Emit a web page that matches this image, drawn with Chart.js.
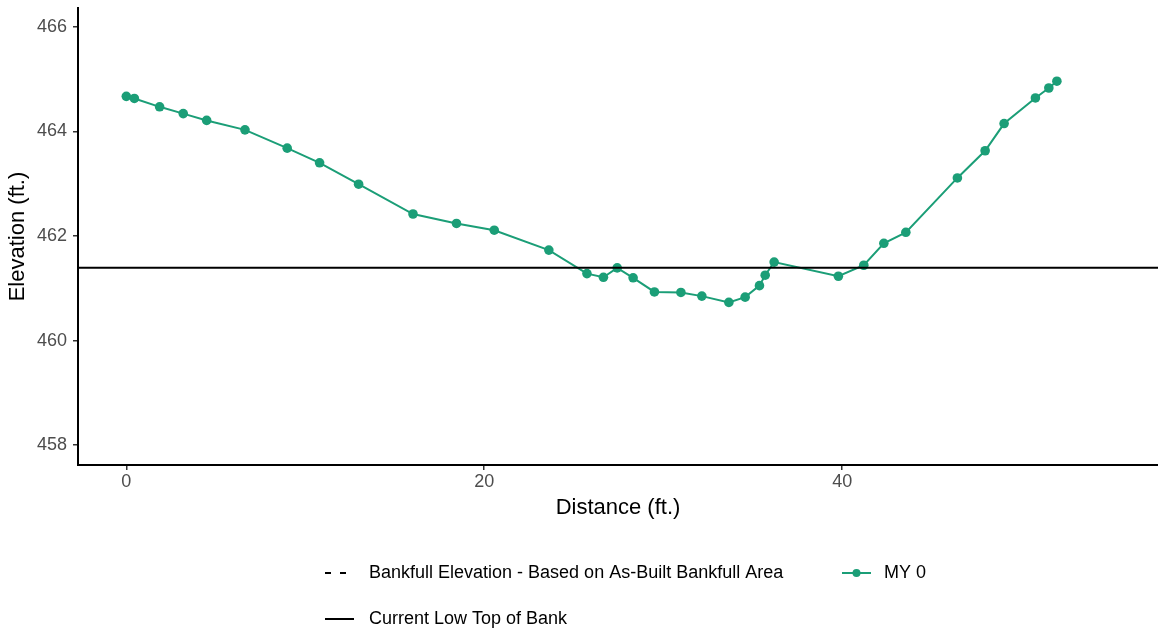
<!DOCTYPE html>
<html>
<head>
<meta charset="utf-8">
<script src="https://cdn.jsdelivr.net/npm/chart.js@4/dist/chart.umd.min.js"></script>
<style>
  html, body { margin: 0; padding: 0; background: #fff; }
  #wrap { width: 1158px; height: 633px; }
</style>
</head>
<body>
<div id="wrap"><canvas id="xsChart"></canvas></div>
<script>
// cross-section survey, MY 0
const distance = [0, 0.45, 1.86, 3.18, 4.49, 6.63, 8.99, 10.8, 12.98, 16.02, 18.45, 20.56, 23.61,
  25.74, 26.66, 27.43, 28.32, 29.51, 30.99, 32.16, 33.67, 34.58, 35.38, 35.7, 36.2,
  39.79, 41.21, 42.33, 43.56, 46.44, 47.99, 49.05, 50.8, 51.55, 52.0];
const elevation = [464.67, 464.63, 464.47, 464.34, 464.21, 464.03, 463.68, 463.4, 462.99, 462.42, 462.24, 462.11, 461.73,
  461.28, 461.21, 461.39, 461.2, 460.93, 460.92, 460.85, 460.73, 460.83, 461.05, 461.25, 461.5,
  461.23, 461.44, 461.86, 462.07, 463.11, 463.63, 464.15, 464.64, 464.83, 464.96];
const lowTopOfBank = 461.39;
const xTicks = [0, 20, 40];
const yTicks = [458, 460, 462, 464, 466];
const xRange = [-2.7, 57.65];
const yRange = [457.62, 466.36];
const legendLabels = ['Bankfull Elevation - Based on As-Built Bankfull Area', 'MY 0', 'Current Low Top of Bank'];

const green = '#1b9e77';
const FONT = "'Liberation Sans', Arial, sans-serif";

const points = distance.map((d, i) => ({ x: d, y: elevation[i] }));

// ggplot style legend drawn under the plot
const bottomLegend = {
  id: 'bottomLegend',
  afterDraw(chart) {
    const c = chart.ctx;
    c.save();
    c.font = '18px ' + FONT;
    c.textBaseline = 'middle';
    c.fillStyle = '#000';
    c.strokeStyle = '#000';
    c.lineWidth = 2;

    // dashed bankfull
    c.beginPath();
    c.moveTo(325, 573); c.lineTo(331, 573);
    c.moveTo(340, 573); c.lineTo(346, 573);
    c.stroke();
    c.fillText(legendLabels[0], 369, 573);

    // solid low top of bank
    c.beginPath();
    c.moveTo(325, 619); c.lineTo(354, 619);
    c.stroke();
    c.fillText(legendLabels[2], 369, 619);

    // MY 0
    c.strokeStyle = green;
    c.fillStyle = green;
    c.beginPath();
    c.moveTo(842, 573); c.lineTo(871, 573);
    c.stroke();
    c.beginPath();
    c.arc(856.5, 573, 4, 0, Math.PI * 2);
    c.fill();
    c.fillStyle = '#000';
    c.fillText(legendLabels[1], 884, 573);
    c.restore();
  }
};

new Chart(document.getElementById('xsChart'), {
  type: 'scatter',
  data: {
    datasets: [
      {
        label: legendLabels[2],
        data: [{ x: xRange[0], y: lowTopOfBank }, { x: xRange[1], y: lowTopOfBank }],
        showLine: true,
        borderColor: '#000',
        borderWidth: 2,
        pointRadius: 0
      },
      {
        label: legendLabels[1],
        data: points,
        showLine: true,
        borderColor: green,
        backgroundColor: green,
        borderWidth: 2,
        pointRadius: 4.8,
        pointBorderWidth: 0
      }
    ]
  },
  options: {
    responsive: true,
    maintainAspectRatio: false,
    animation: false,
    layout: { autoPadding: false, padding: { top: 8, bottom: 108, left: 0, right: 0 } },
    plugins: { legend: { display: false }, tooltip: { enabled: false } },
    scales: {
      x: {
        type: 'linear',
        min: xRange[0],
        max: xRange[1],
        afterBuildTicks: s => { s.ticks = xTicks.map(v => ({ value: v })); },
        afterFit: s => { s.height = 60; s.paddingLeft = 0; s.paddingRight = 0; },
        border: { display: true, color: '#000', width: 2 },
        grid: { drawOnChartArea: false, drawTicks: true, tickLength: 5, color: '#333', lineWidth: 1.5 },
        ticks: { color: '#4d4d4d', font: { family: FONT, size: 18 }, padding: 1, maxRotation: 0 },
        title: { display: true, text: 'Distance (ft.)', color: '#000', font: { family: FONT, size: 22 }, padding: { top: 0, bottom: 4 } }
      },
      y: {
        type: 'linear',
        min: yRange[0],
        max: yRange[1],
        afterBuildTicks: s => { s.ticks = yTicks.map(v => ({ value: v })); },
        afterFit: s => { s.width = 78; s.paddingTop = 0; s.paddingBottom = 0; },
        border: { display: true, color: '#000', width: 2 },
        grid: { drawOnChartArea: false, drawTicks: true, tickLength: 5, color: '#333', lineWidth: 1.5 },
        ticks: { color: '#4d4d4d', font: { family: FONT, size: 18 }, padding: 6 },
        title: { display: true, text: 'Elevation (ft.)', color: '#000', font: { family: FONT, size: 22 }, padding: { top: 5, bottom: 0 } }
      }
    }
  },
  plugins: [bottomLegend]
});
</script>
</body>
</html>
